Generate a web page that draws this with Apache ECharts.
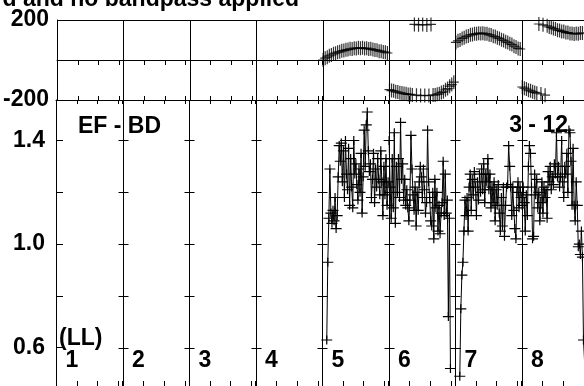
<!DOCTYPE html>
<html><head><meta charset="utf-8">
<script src="https://cdn.jsdelivr.net/npm/echarts@6/dist/echarts.min.js"></script>
<style>html,body{margin:0;padding:0;background:#fff;overflow:hidden}#c{width:584px;height:386px}</style>
</head><body><div id="c"></div>
<script>
// ---------------- data ----------------
const ifLabels = ['1', '2', '3', '4', '5', '6', '7', '8'];
const titleText = 'd and no bandpass applied';
const baselineText = 'EF - BD';
const timeText = '3 - 12';
const polText = '(LL)';
const channelsPerIF = 64;
const tickChannels = [20, 40, 60];
const phaseLabelValues = [-200, 200];
const ampTickValues = [0.6, 0.8, 1.0, 1.2, 1.4];
const ampLabelValues = [0.6, 1.0, 1.4];

// amplitude per channel (1..64), null = no data
const ampIF5 = [null, null, null, null, 0.63, 0.93, 1.10, 1.29, 1.12, 1.08, 1.13, 1.09, 1.18, 1.06, 1.11, 1.26,
  1.38, 1.32, 1.39, 1.24, 1.36, 1.18, 1.40, 1.27, 1.21, 1.37, 1.15, 1.33, 1.22, 1.14, 1.40, 1.27,
  1.31, 1.23, 1.17, 1.29, 1.20, 1.35, 1.12, 1.26, 1.44, 1.30, 1.46, 1.51, 1.36, 1.28, 1.31, 1.18,
  1.25, 1.35, 1.16, 1.29, 1.22, 1.33, 1.25, 1.19, 1.36, 1.24, 1.11, 1.30, 1.19, 1.33, 1.15, 1.24];
const ampIF6 = [1.40, 1.22, 1.10, 1.33, 1.14, 1.43, 1.08, 1.30, 1.20, 1.33, 1.18, 1.47, 1.25, 1.31, 1.17, 1.25,
  1.15, 1.21, 1.14, 1.09, 1.17, 1.42, 1.29, 1.19, 1.13, 1.22, 1.07, 1.20, 1.13, 1.24, 1.30, 1.26,
  1.18, 1.29, 1.21, 1.12, 1.16, 1.44, 1.24, 1.18, 1.09, 1.07, 1.20, 1.02, 1.25, 1.14, 1.20, 1.05,
  1.15, 1.04, 1.12, 1.16, 1.32, 1.11, 1.27, 1.12, 1.17, 0.72, 1.10, 0.52, null, null, null, null];
const ampIF7 = [null, null, null, null, 0.49, 0.75, 0.88, 0.93, 1.05, 1.17, 1.11, 1.18, 1.05, 1.22, 1.27, 1.13,
  1.25, 1.19, 1.28, 1.22, 1.11, 1.24, 1.17, 1.27, 1.20, 1.29, 1.21, 1.31, 1.16, 1.27, 1.24, 1.33,
  1.21, 1.27, 1.14, 1.22, 1.16, 1.24, 1.09, 1.21, 1.15, 1.23, 1.12, 1.05, 1.18, 1.07, 1.22, 1.03,
  1.15, 1.22, 1.23, 1.38, 1.30, 1.22, 1.11, 1.22, 1.13, 1.06, 1.02, 1.20, 1.24, 1.14, 1.22, 1.18];
const ampIF8 = [1.15, 1.22, 1.16, 1.05, 1.19, 1.11, 1.30, 1.38, 1.35, 1.22, 1.02, 1.03, 1.27, 1.19, 1.25, 1.14,
  1.20, 1.09, 1.16, 1.24, 1.12, 1.22, 1.18, 1.21, 1.10, 1.28, 1.24, 1.30, 1.21, 1.26, 1.23, 1.31,
  1.27, 1.43, 1.26, 1.30, 1.22, 1.26, 1.40, 1.24, 1.18, 1.30, 1.27, 1.35, 1.20, 1.44, 1.43, 1.32,
  1.15, 1.37, 1.15, 1.09, 1.24, 1.15, 0.99, 1.00, 0.96, 1.05, 0.95, 0.63, 0.55, null, null, null];

// phase (degrees) at channels 1,3,5,...,63
const phaseIF5 = [0, 9, 14, 21, 25, 31, 34, 39, 41, 46, 47, 51, 52, 56, 55, 59,
  58, 61, 59, 61, 57, 59, 55, 56, 52, 50, 49, 44, 44, 40, 39, 35];
const phaseIF6 = [-148, -153, -154, -159, -160, -164, -165, -168, -169, -172, -172, -175, 178, -176, 176, -178,
  177, -177, 175, -178, 178, -175, -175, -171, -169, -162, -159, -149, -143, -131, -123, -111];
const phaseIF7 = [88, 96, 100, 108, 111, 118, 120, 126, 127, 131, 131, 134, 133, 134, 131, 131,
  126, 125, 119, 117, 111, 108, 101, 98, 91, 88, 81, 77, 69, 65, 58, 55];
const phaseIF8 = [-135, -141, -145, -151, -154, -159, -162, -166, 180, -170, 176, -176, 171, 165, 163, 157,
  155, 149, 148, 143, 142, 137, 137, 133, 133, 130, 132, 131, 135, 135, 140, 143];

// ---------------- build ----------------
const FONT = '"Liberation Sans", Arial, Helvetica, sans-serif';
const X_MAX = 508;
const PH_MIN = -200, PH_MAX = 200;
const AMP_MIN = 0.452, AMP_MAX = 1.556;
const nIF = ifLabels.length;
const dividers = [];
const xTicks = [];
for (let i = 0; i <= nIF; i++) {
  const base = i * channelsPerIF;
  if (base <= X_MAX) { dividers.push(base); xTicks.push(base); }
  tickChannels.forEach(c => { if (base + c <= X_MAX) xTicks.push(base + c); });
}

function ampPoints(ifNo, arr) {
  const out = [];
  arr.forEach((v, i) => { if (v != null) out.push([(ifNo - 1) * channelsPerIF + i + 0.5, v]); });
  return out;
}
function phasePoints(ifNo, arr) {
  return arr.map((v, k) => [(ifNo - 1) * channelsPerIF + 2 * k + 0.5, v]);
}

const ampCross = 'path://M0,4H11V5.2H0Z M4.9,0H6.1V9H4.9Z';
const phaseCross = 'path://M0,6.4H10V7.6H0Z M4.4,0H5.6V14H4.4Z';

function xAx(gridIndex, position, tickLen, showLine) {
  return {
    type: 'value', gridIndex, position, min: 0, max: X_MAX,
    axisLine: { show: showLine, lineStyle: { color: '#000', width: 1 } },
    axisTick: { show: true, inside: true, length: tickLen, customValues: xTicks, lineStyle: { color: '#000', width: 1 } },
    axisLabel: { show: false },
    splitLine: { show: false }
  };
}

function dividerSeries(xIdx, yIdx, lo, hi) {
  return {
    type: 'custom', xAxisIndex: xIdx, yAxisIndex: yIdx, silent: true, clip: false,
    data: dividers.filter(d => d > 0).map(d => [d, lo, hi]),
    renderItem: (params, api) => {
      const a = api.coord([api.value(0), api.value(1)]);
      const b = api.coord([api.value(0), api.value(2)]);
      const x = Math.round(a[0]) + 0.5;
      return { type: 'line', shape: { x1: x, y1: a[1], x2: x, y2: b[1] },
        style: { stroke: '#000', lineWidth: 1 } };
    }
  };
}

const series = [];
series.push(dividerSeries(0, 0, PH_MIN, PH_MAX));
series.push(dividerSeries(2, 1, AMP_MIN, AMP_MAX));
[[5, ampIF5], [6, ampIF6], [7, ampIF7], [8, ampIF8]].forEach(([n, arr]) => {
  series.push({
    type: 'line', xAxisIndex: 2, yAxisIndex: 1, data: ampPoints(n, arr),
    symbol: ampCross, symbolSize: [11, 9], showAllSymbol: true, clip: true,
    lineStyle: { color: '#000', width: 1 }, itemStyle: { color: '#000' }, silent: true
  });
});
[[5, phaseIF5], [6, phaseIF6], [7, phaseIF7], [8, phaseIF8]].forEach(([n, arr]) => {
  series.push({
    type: 'scatter', xAxisIndex: 0, yAxisIndex: 0, data: phasePoints(n, arr),
    symbol: phaseCross, symbolSize: [10, 14], clip: true,
    itemStyle: { color: '#000' }, silent: true
  });
});
// tick marks crossing the IF dividers in the amplitude panel
const divTickData = [];
dividers.filter(d => d > 0).forEach(d => ampTickValues.forEach(v => divTickData.push([d, v])));
series.push({
  type: 'custom', xAxisIndex: 2, yAxisIndex: 1, data: divTickData, silent: true,
  renderItem: (params, api) => {
    const p = api.coord([api.value(0), api.value(1)]);
    const x = Math.round(p[0]) + 0.5;
    const y = Math.round(p[1]) + 0.5;
    return { type: 'line', shape: { x1: x - 5, y1: y, x2: x + 5, y2: y },
      style: { stroke: '#000', lineWidth: 1 } };
  }
});
// IF number labels
const labelData = ifLabels.map((t, i) => [i * channelsPerIF + 9.1, 0.551]);
series.push({
  type: 'custom', xAxisIndex: 2, yAxisIndex: 1, data: labelData, silent: true, clip: false,
  renderItem: (params, api) => {
    const p = api.coord([api.value(0), api.value(1)]);
    return { type: 'text', x: p[0], y: p[1],
      style: { text: ifLabels[params.dataIndex], font: 'bold 23px ' + FONT, fill: '#000', align: 'left', verticalAlign: 'middle' } };
  }
});

const option = {
  animation: false,
  backgroundColor: '#fff',
  grid: [
    { left: 56, right: 0, top: 20, height: 80 },
    { left: 56, right: 0, top: 100, bottom: -2 }
  ],
  xAxis: [
    xAx(0, 'top', 5, true),
    xAx(0, 'bottom', 4, true),
    xAx(1, 'top', 4, true),
    xAx(1, 'bottom', 5, false)
  ],
  yAxis: [
    {
      type: 'value', gridIndex: 0, min: PH_MIN, max: PH_MAX, interval: 200,
      axisLine: { show: true, lineStyle: { color: '#000', width: 1 } },
      axisTick: { show: false },
      axisLabel: { customValues: phaseLabelValues, margin: 8, color: '#000', fontWeight: 'bold', fontSize: 23, fontFamily: FONT,
        padding: [4, 0, 0, 0] },
      splitLine: { show: true, lineStyle: { color: '#000', width: 1 } }
    },
    {
      type: 'value', gridIndex: 1, min: AMP_MIN, max: AMP_MAX,
      axisLine: { show: true, lineStyle: { color: '#000', width: 1 } },
      axisTick: { show: true, inside: true, length: 7, customValues: ampTickValues, lineStyle: { color: '#000' } },
      axisLabel: { customValues: ampLabelValues, margin: 11, color: '#000', fontWeight: 'bold', fontSize: 23, fontFamily: FONT,
        padding: [5, 0, 0, 0], formatter: v => Number(v).toFixed(1) },
      splitLine: { show: false }
    }
  ],
  graphic: [
    { type: 'text', x: 299, y: 0, style: { text: titleText, font: 'bold 23px ' + FONT, fill: '#000', align: 'right', verticalAlign: 'middle' } },
    { type: 'text', x: 78, y: 127, style: { text: baselineText, font: 'bold 23px ' + FONT, fill: '#000', align: 'left', verticalAlign: 'middle' } },
    { type: 'text', x: 568, y: 126, style: { text: timeText, font: 'bold 23px ' + FONT, fill: '#000', align: 'right', verticalAlign: 'middle' } },
    { type: 'text', x: 59, y: 339, style: { text: polText, font: 'bold 23px ' + FONT, fill: '#000', align: 'left', verticalAlign: 'middle' } }
  ],
  series
};
const chart = echarts.init(document.getElementById('c'), null, { renderer: 'canvas' });
chart.setOption(option);
</script>
</body></html>
